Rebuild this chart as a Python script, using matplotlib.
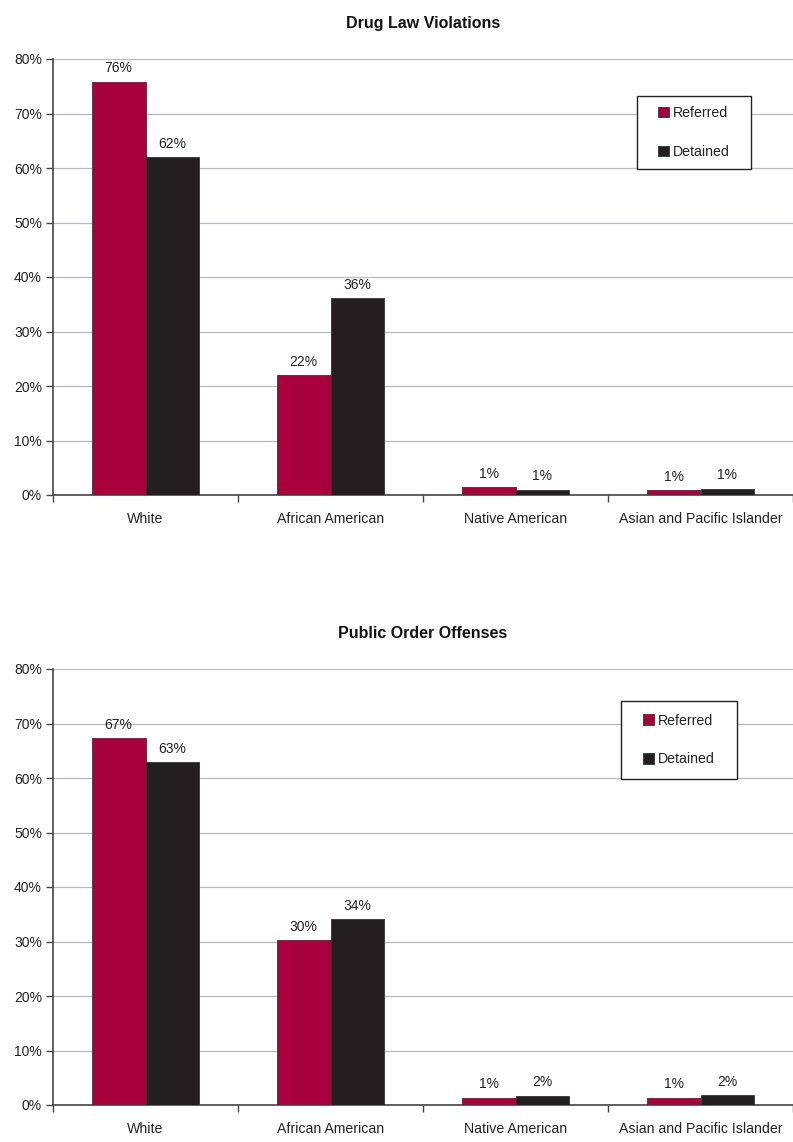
import matplotlib
matplotlib.use("Agg")
import matplotlib.pyplot as plt
from matplotlib.patches import Rectangle
import numpy as np

plt.rcParams['font.family'] = ['Liberation Sans', 'DejaVu Sans']

categories = ["White", "African American", "Native American", "Asian and Pacific Islander"]
series_names = ["Referred", "Detained"]

drug_referred = [75.8, 22.0, 1.45, 0.9]
drug_detained = [62.0, 36.1, 1.0, 1.1]

public_referred = [67.3, 30.2, 1.3, 1.3]
public_detained = [62.9, 34.1, 1.7, 1.8]

titles = ["Drug Law Violations", "Public Order Offenses"]
yticks = [0, 10, 20, 30, 40, 50, 60, 70, 80]

RED = "#A8003A"
DARK = "#231F20"

W, H = 793, 1142
fig = plt.figure(figsize=(W / 100, H / 100), dpi=100)
ax_top = fig.add_axes([53 / W, 1 - 495 / H, 740 / W, 436 / H])
ax_bot = fig.add_axes([53 / W, 1 - 1105 / H, 740 / W, 436 / H])

legend_boxes = [(637, 96, 751, 169), (621, 701, 737, 779)]


def draw_panel(ax, title, referred, detained, legend_box):
    x = np.arange(len(categories))
    w = 0.29
    b1 = ax.bar(x - w / 2, referred, w, color=RED, edgecolor="#333333", linewidth=0.6,
                label=series_names[0], zorder=3)
    b2 = ax.bar(x + w / 2, detained, w, color=DARK, edgecolor="#333333", linewidth=0.6,
                label=series_names[1], zorder=3)
    for bars, vals in ((b1, referred), (b2, detained)):
        for rect, v in zip(bars, vals):
            ax.text(rect.get_x() + rect.get_width() / 2, v + 1.2, f"{round(v):d}%",
                    ha="center", va="bottom", fontsize=10, color="#222222")

    ax.set_xlim(-0.5, len(categories) - 0.5)
    ax.set_ylim(0, 80)
    ax.set_yticks(yticks)
    ax.set_yticklabels([f"{t}%" for t in yticks], fontsize=10, color="#222222")
    ax.yaxis.grid(True, color="#B8B8C0", linewidth=0.9, zorder=0)
    ax.set_axisbelow(True)

    ax.set_xticks(x)
    ax.set_xticklabels(categories, fontsize=10.2, color="#222222")
    ax.tick_params(axis="x", which="major", length=0, pad=12)
    ax.set_xticks(np.arange(-0.5, len(categories)), minor=True)
    ax.tick_params(axis="x", which="minor", length=5, width=1, color="#444444", direction="out")
    ax.tick_params(axis="y", length=5, width=1, color="#444444", direction="out", pad=3)

    for side in ("top", "right"):
        ax.spines[side].set_visible(False)
    for side in ("left", "bottom"):
        ax.spines[side].set_color("#444444")
        ax.spines[side].set_linewidth(1.2)

    ax.set_title(title, fontsize=11.5, fontweight="bold", pad=22, color="#111111")

    # legend box drawn as a plain rectangle, entries centred inside it
    x0, y0, x1, y1 = legend_box
    box = Rectangle((x0 / W, 1 - y1 / H), (x1 - x0) / W, (y1 - y0) / H,
                    transform=fig.transFigure, facecolor="white",
                    edgecolor="#222222", linewidth=1.0, zorder=4, clip_on=False)
    ax.add_patch(box)
    cx, cy = (x0 + x1) / 2 / W, 1 - (y0 + y1) / 2 / H
    leg = ax.legend(loc="center", bbox_to_anchor=(cx, cy), bbox_transform=fig.transFigure,
                    fontsize=10.2, frameon=False,
                    handlelength=0.75, handleheight=0.75, handletextpad=0.25,
                    labelspacing=1.75, borderpad=0, borderaxespad=0)
    leg.set_zorder(6)
    for t in leg.get_texts():
        t.set_color("#222222")


draw_panel(ax_top, titles[0], drug_referred, drug_detained, legend_boxes[0])
draw_panel(ax_bot, titles[1], public_referred, public_detained, legend_boxes[1])

fig.savefig("out.png", dpi=100, facecolor="white")
